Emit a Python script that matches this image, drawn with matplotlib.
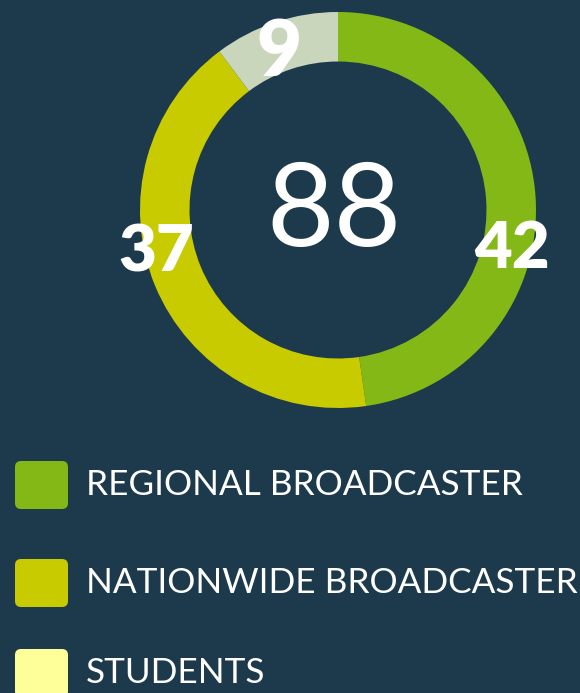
import matplotlib
matplotlib.use('Agg')
import matplotlib.pyplot as plt
from matplotlib.patches import FancyBboxPatch

# data
categories = ['REGIONAL BROADCASTER', 'NATIONWIDE BROADCASTER', 'STUDENTS']
values = [42, 37, 9]
total = 88
ring_colors = ['#84b817', '#c8cb00', '#c9d6bc']
legend_colors = ['#84b817', '#c8cb00', '#ffff99']

bg = '#1d3a4d'
W, H = 580, 693

fig = plt.figure(figsize=(W / 100, H / 100), dpi=100, facecolor=bg)

# pixel-space overlay for the legend
lax = fig.add_axes([0, 0, 1, 1])
lax.set_xlim(0, W)
lax.set_ylim(H, 0)
lax.axis('off')

# donut: centre (338, 210) px, radius 198 px
cx, cy, r = 338, 210, 198
ax = fig.add_axes([(cx - r) / W, (H - cy - r) / H, 2 * r / W, 2 * r / H])
ax.set_facecolor(bg)
ax.pie(values, colors=ring_colors, startangle=90, counterclock=False,
       radius=1.0, wedgeprops=dict(width=0.25, edgecolor='none'))
ax.set_xlim(-1, 1)
ax.set_ylim(-1, 1)
ax.set_aspect('equal')
ax.axis('off')

# value labels
label_pos = [(0.88, -0.2), (-0.92, -0.215), (-0.30, 0.79)]
label_size = [47, 47, 56]
for v, (x, y), fs in zip(values, label_pos, label_size):
    ax.text(x, y, str(v), ha='center', va='center', color='white',
            fontsize=fs, fontweight='heavy', family='Lato')

ax.text(-0.02, -0.02, str(total), ha='center', va='center', color='white',
        fontsize=84, family='Lato')

# legend
rows_top = [461, 559, 649]
for name, col, top in zip(categories, legend_colors, rows_top):
    p = FancyBboxPatch((15 + 6, top + 6), 53 - 12, 48 - 12,
                       boxstyle='round,pad=6', facecolor=col, edgecolor='none')
    lax.add_patch(p)
    lax.text(86, top + 24, name, ha='left', va='center', color='white',
             fontsize=25.3, family='Lato')

fig.savefig('out.png', dpi=100, facecolor=bg)
